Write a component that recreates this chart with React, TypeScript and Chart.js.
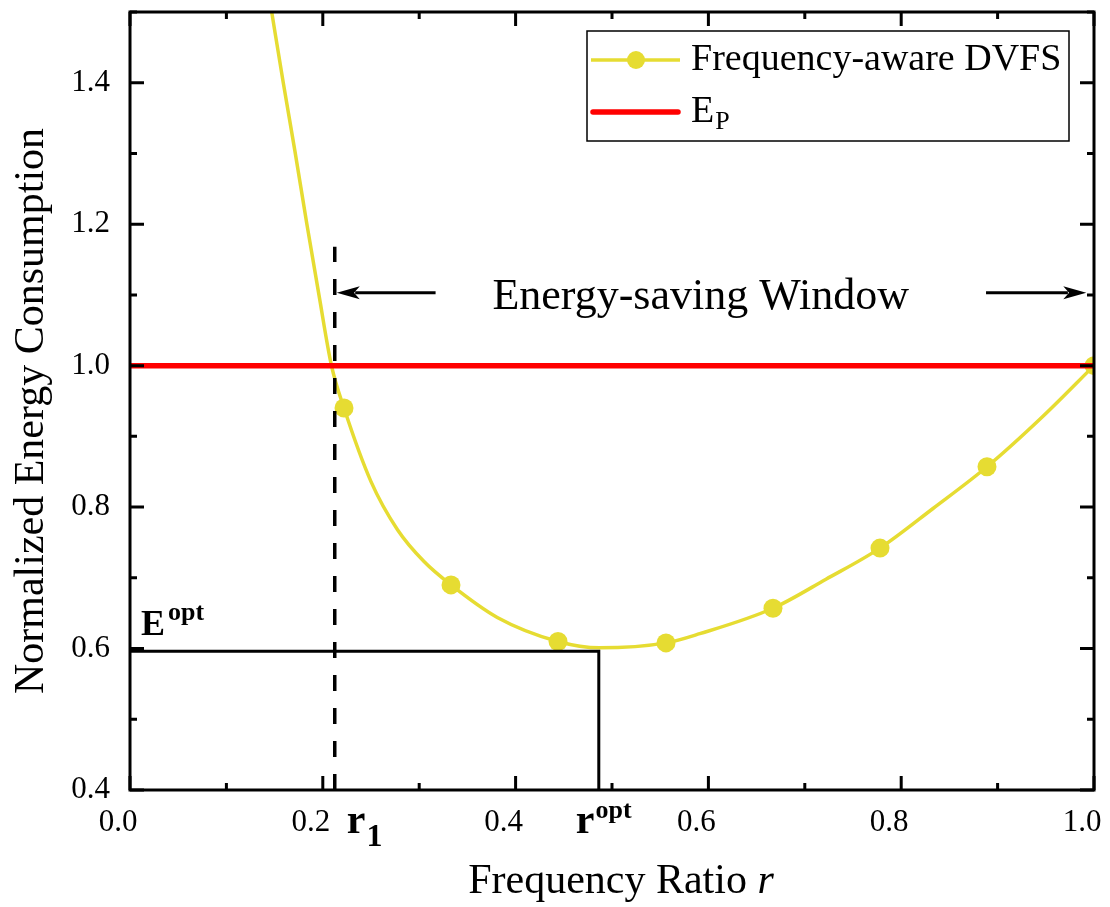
import React, { useEffect, useRef } from "react";
import { Chart, registerables } from "chart.js";
Chart.register(...registerables);

// ---------- data ----------
const markerR = [0.222, 0.333, 0.444, 0.556, 0.667, 0.778, 0.889, 1.0];
const markerE = [0.94, 0.69, 0.61, 0.608, 0.657, 0.742, 0.857, 1.0];
const curveR = [0.147, 0.159, 0.171, 0.1835, 0.196, 0.209, 0.222, 0.25, 0.2775, 0.305, 0.333, 0.381, 0.444, 0.487, 0.556, 0.591, 0.667, 0.722, 0.778, 0.833, 0.889, 0.946, 1.0];
const curveE = [1.5, 1.4, 1.304, 1.2, 1.1, 1.0, 0.94, 0.836, 0.768, 0.723, 0.69, 0.644, 0.61, 0.601, 0.608, 0.621, 0.657, 0.698, 0.742, 0.798, 0.857, 0.927, 1.0];
const epR = [0, 1];
const epE = [1.0, 1.0];
const r1 = 0.2124;
const r1DashTop = 1.168;
const rOpt = 0.4863;
const eOpt = 0.596;
const arrowE = 1.103;
const leftArrowR = [0.317, 0.2145];
const rightArrowR = [0.888, 0.992];
const windowTextR = 0.592;
const windowTextE = 1.08;
const xMajor = [0, 0.2, 0.4, 0.6, 0.8, 1.0];
const xMinor = [0.1, 0.3, 0.5, 0.7, 0.9];
const yMajor = [0.4, 0.6, 0.8, 1.0, 1.2, 1.4];
const yMinor = [0.5, 0.7, 0.9, 1.1, 1.3, 1.5];

const YELLOW = "rgb(230,220,50)";
const RED = "#ff0000";
const SERIF = "'Liberation Serif', 'Times New Roman', serif";

const overlay = {
  id: "overlay",
  afterDatasetsDraw(chart: any) {
    const { ctx, chartArea: ca, scales } = chart;
    const xs = scales.x, ys = scales.y;
    const X = (v: number) => xs.getPixelForValue(v);
    const Y = (v: number) => ys.getPixelForValue(v);
    ctx.save();
    ctx.fillStyle = "#000";
    ctx.strokeStyle = "#000";
    // arrows
    const arrow = (from: number, to: number, e: number) => {
      const x0 = X(from), x1 = X(to), y = Y(e);
      const dir = Math.sign(x1 - x0);
      const hl = 23, hw = 6.5;
      ctx.lineWidth = 3;
      ctx.beginPath();
      ctx.moveTo(x0, y);
      ctx.lineTo(x1 - dir * hl * 0.8, y);
      ctx.stroke();
      ctx.beginPath();
      ctx.moveTo(x1, y);
      ctx.lineTo(x1 - dir * hl, y - hw);
      ctx.lineTo(x1 - dir * hl * 0.75, y);
      ctx.lineTo(x1 - dir * hl, y + hw);
      ctx.closePath();
      ctx.fill();
    };
    arrow(leftArrowR[0], leftArrowR[1], arrowE);
    arrow(rightArrowR[0], rightArrowR[1], arrowE);

    ctx.textBaseline = "alphabetic";
    ctx.textAlign = "center";
    ctx.font = `44px ${SERIF}`;
    ctx.fillText("Energy-saving Window", X(windowTextR), Y(windowTextE));

    // E^opt
    ctx.textAlign = "left";
    const ex = ca.left + 11;
    const ey = Y(eOpt);
    ctx.font = `bold 36px ${SERIF}`;
    ctx.fillText("E", ex, ey - 16);
    const ew = ctx.measureText("E").width;
    ctx.font = `bold 26px ${SERIF}`;
    ctx.fillText("opt", ex + ew + 3, ey - 31);

    // r1
    const bx = ca.bottom;
    ctx.font = `bold 42px ${SERIF}`;
    const rx = X(r1) + 12;
    ctx.fillText("r", rx, bx + 43);
    const rw = ctx.measureText("r").width;
    ctx.font = `bold 32px ${SERIF}`;
    ctx.fillText("1", rx + rw + 1, bx + 56);

    // r^opt
    ctx.font = `bold 42px ${SERIF}`;
    const ox = X(rOpt) - 23;
    ctx.fillText("r", ox, bx + 43);
    ctx.font = `bold 26px ${SERIF}`;
    ctx.fillText("opt", ox + rw + 1, bx + 28);

    // legend
    const lx = ca.right - 507, ly = ca.top + 19;
    ctx.lineWidth = 1.5;
    ctx.strokeRect(lx, ly, 482, 110);
    const row1 = ly + 29, row2 = ly + 81;
    ctx.strokeStyle = YELLOW;
    ctx.lineWidth = 3.5;
    ctx.beginPath();
    ctx.moveTo(lx + 4, row1);
    ctx.lineTo(lx + 93, row1);
    ctx.stroke();
    ctx.fillStyle = YELLOW;
    ctx.beginPath();
    ctx.arc(lx + 49, row1, 9, 0, Math.PI * 2);
    ctx.fill();
    ctx.strokeStyle = RED;
    ctx.lineWidth = 5.5;
    ctx.lineCap = "round";
    ctx.beginPath();
    ctx.moveTo(lx + 6, row2);
    ctx.lineTo(lx + 91, row2);
    ctx.stroke();
    ctx.lineCap = "butt";
    ctx.fillStyle = "#000";
    ctx.textBaseline = "middle";
    ctx.font = `38px ${SERIF}`;
    ctx.fillText("Frequency-aware DVFS", lx + 104, row1);
    ctx.fillText("E", lx + 104, row2);
    const Ew = ctx.measureText("E").width;
    ctx.font = `26px ${SERIF}`;
    ctx.fillText("P", lx + 104 + Ew + 1, row2 + 10);

    // axis titles
    ctx.textBaseline = "alphabetic";
    ctx.font = `42px ${SERIF}`;
    const t1 = "Frequency Ratio ";
    const w1 = ctx.measureText(t1).width;
    ctx.font = `italic 42px ${SERIF}`;
    const w2 = ctx.measureText("r").width;
    const cx = (ca.left + ca.right) / 2 + 9;
    const tx = cx - (w1 + w2) / 2;
    ctx.font = `42px ${SERIF}`;
    ctx.textAlign = "left";
    ctx.fillText(t1, tx, 893);
    ctx.font = `italic 42px ${SERIF}`;
    ctx.fillText("r", tx + w1, 893);

    ctx.save();
    ctx.translate(43, (ca.top + ca.bottom) / 2 + 10);
    ctx.rotate(-Math.PI / 2);
    ctx.textAlign = "center";
    ctx.font = `42px ${SERIF}`;
    ctx.fillText("Normalized Energy Consumption", 0, 0);
    ctx.restore();
    ctx.restore();
  },
  afterDraw(chart: any) {
    const { ctx, chartArea: ca, scales } = chart;
    const xs = scales.x, ys = scales.y;
    ctx.save();
    ctx.strokeStyle = "#000";
    ctx.lineWidth = 3;
    ctx.strokeRect(ca.left, ca.top, ca.right - ca.left, ca.bottom - ca.top);
    const tick = (vals: number[], len: number) => {
      vals.forEach((v) => {
        const px = xs.getPixelForValue(v);
        ctx.beginPath();
        ctx.moveTo(px, ca.bottom);
        ctx.lineTo(px, ca.bottom - len);
        ctx.moveTo(px, ca.top);
        ctx.lineTo(px, ca.top + len);
        ctx.stroke();
      });
    };
    const ytick = (vals: number[], len: number) => {
      vals.forEach((v) => {
        const py = ys.getPixelForValue(v);
        ctx.beginPath();
        ctx.moveTo(ca.left, py);
        ctx.lineTo(ca.left + len, py);
        ctx.moveTo(ca.right, py);
        ctx.lineTo(ca.right - len, py);
        ctx.stroke();
      });
    };
    tick(xMajor, 14);
    tick(xMinor, 7);
    ytick(yMajor, 14);
    ytick(yMinor, 7);
    ctx.restore();
  },
};

export default function App() {
  const ref = useRef<HTMLCanvasElement | null>(null);
  useEffect(() => {
    document.body.style.margin = "0";
    const canvas = ref.current!;
    const chart = new Chart(canvas, {
      type: "line",
      data: {
        datasets: [
          {
            label: "Frequency-aware DVFS curve",
            data: curveR.map((r, i) => ({ x: r, y: curveE[i] })),
            borderColor: YELLOW,
            borderWidth: 3.5,
            pointRadius: 0,
            cubicInterpolationMode: "monotone",
            clip: 0,
            order: 5,
          },
          {
            label: "Frequency-aware DVFS",
            data: markerR.map((r, i) => ({ x: r, y: markerE[i] })),
            showLine: false,
            pointRadius: 9.5,
            pointBackgroundColor: YELLOW,
            pointBorderWidth: 0,
            borderColor: YELLOW,
            clip: 0,
            order: 4,
          },
          {
            label: "EP",
            data: epR.map((r, i) => ({ x: r, y: epE[i] })),
            borderColor: RED,
            borderWidth: 5.5,
            pointRadius: 0,
            clip: 0,
            order: 3,
          },
          {
            label: "r1",
            data: [
              { x: r1, y: 0.4 },
              { x: r1, y: r1DashTop },
            ],
            borderColor: "#000",
            borderWidth: 3.5,
            borderDash: [16, 17],
            pointRadius: 0,
            order: 2,
          },
          {
            label: "opt",
            data: [
              { x: 0, y: eOpt },
              { x: rOpt, y: eOpt },
              { x: rOpt, y: 0.4 },
            ],
            borderColor: "#000",
            borderWidth: 3,
            pointRadius: 0,
            order: 1,
          },
        ],
      },
      options: {
        animation: false,
        responsive: false,
        devicePixelRatio: 1,
        layout: { padding: { left: 0, right: 16, top: 12, bottom: 0 } },
        plugins: { legend: { display: false }, tooltip: { enabled: false } },
        scales: {
          x: {
            type: "linear",
            min: 0,
            max: 1,
            grid: { display: false },
            border: { display: false },
            title: { display: false },
            afterBuildTicks: (s: any) => {
              s.ticks = xMajor.map((v) => ({ value: v }));
            },
            afterFit: (s: any) => {
              s.height = 117;
              s.paddingLeft = 0;
              s.paddingRight = 0;
            },
            ticks: {
              color: "#000",
              font: { family: SERIF, size: 31 },
              padding: 6,
              labelOffset: -12,
              maxRotation: 0,
              autoSkip: false,
              callback: (v: any) => Number(v).toFixed(1),
            },
          },
          y: {
            type: "linear",
            min: 0.4,
            max: 1.5,
            grid: { display: false },
            border: { display: false },
            title: { display: false },
            afterBuildTicks: (s: any) => {
              s.ticks = yMajor.map((v) => ({ value: v }));
            },
            afterFit: (s: any) => {
              s.width = 130;
              s.paddingTop = 0;
              s.paddingBottom = 0;
            },
            ticks: {
              color: "#000",
              font: { family: SERIF, size: 31 },
              padding: 12,
              autoSkip: false,
              callback: (v: any) => Number(v).toFixed(1),
            },
          },
        },
      },
      plugins: [overlay],
    } as any);
    return () => chart.destroy();
  }, []);
  return (
    <div style={{ width: 1110, height: 907, background: "#fff" }}>
      <canvas ref={ref} width={1110} height={907} style={{ display: "block" }} />
    </div>
  );
}
